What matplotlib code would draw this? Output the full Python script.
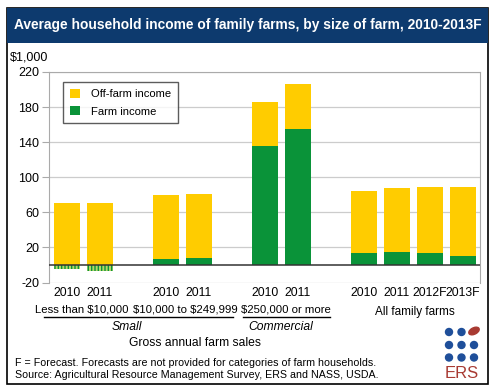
import matplotlib.pyplot as plt
from matplotlib.patches import Rectangle, Ellipse

plt.rcParams['font.family'] = ['Liberation Sans', 'DejaVu Sans']
plt.rcParams['axes.unicode_minus'] = False

# data (in $1,000)
years = ['2010', '2011', '2010', '2011', '2010', '2011', '2010', '2011', '2012F', '2013F']
positions = [0, 1, 3, 4, 6, 7, 9, 10, 11, 12]
off_farm = [71, 71, 73, 72, 50, 51, 71, 73, 75, 78]
farm = [-5, -6.5, 6.5, 8.5, 135.5, 155.5, 13.5, 15, 14, 10.5]
groups = ['Less than \\$10,000', '\\$10,000 to \\$249,999', '\\$250,000 or more', 'All family farms']

W, H = 493, 390
YELLOW = '#ffcc00'
GREEN = '#0a9339'
NAVY = '#0d3a6e'

fig = plt.figure(figsize=(W / 100, H / 100), dpi=100)


def fx(px):
    return px / W


def fy(py):
    return 1 - py / H


# outer frame and title bar
fig.patches.append(Rectangle((fx(7), fy(384)), fx(481), (384 - 8) / H, transform=fig.transFigure,
                             fill=False, edgecolor='black', lw=1.2))
fig.patches.append(Rectangle((fx(7), fy(43)), fx(481), 35 / H, transform=fig.transFigure,
                             facecolor=NAVY, edgecolor='none'))
fig.text(fx(14), fy(25.5), 'Average household income of family farms, by size of farm, 2010-2013F',
         color='white', fontsize=9.9, fontweight='bold', va='center', ha='left')

ax = fig.add_axes([fx(49), fy(282.5), fx(480 - 49), (282.5 - 72) / H])

# stacked bars: farm income at the bottom (negative values hatched), off-farm above
for x, off, fm in zip(positions, off_farm, farm):
    if fm >= 0:
        ax.bar(x, fm, width=0.79, color=GREEN, zorder=3)
        ax.bar(x, off, width=0.79, bottom=fm, color=YELLOW, zorder=3)
    else:
        ax.bar(x, fm, width=0.79, color='#b7d66a', edgecolor=GREEN, hatch='|||||', lw=0, zorder=3)
        ax.bar(x, off, width=0.79, color=YELLOW, zorder=3)

ax.axhline(0, color='#333333', lw=1.1, zorder=4)
ax.set_xlim(-0.54, 12.52)
ax.set_ylim(-20, 220)
ax.set_yticks([-20, 20, 60, 100, 140, 180, 220])
ax.yaxis.grid(True, color='#cccccc', lw=0.9)
ax.set_axisbelow(True)
ax.tick_params(axis='y', length=5, color='#aaaaaa', labelsize=9, pad=2)
ax.set_xticks(positions)
ax.set_xticklabels(years, fontsize=8.7)
ax.tick_params(axis='x', length=0, pad=3)
for s in ['left', 'top', 'right']:
    ax.spines[s].set_color('#aaaaaa')
ax.spines['bottom'].set_visible(False)

fig.text(fx(10), fy(57), '\\$1,000', fontsize=9, va='center', ha='left')

# legend box
ax.bar([0], [0], color=YELLOW, label='Off-farm income')
ax.bar([0], [0], color=GREEN, label='Farm income')
leg = ax.legend(loc='upper left', bbox_to_anchor=(14 / 431, 1 - 10 / 210.5), borderaxespad=0,
                fontsize=8.1, frameon=True, fancybox=False, handlelength=0.9, handleheight=0.9,
                borderpad=0.6, labelspacing=0.6, handletextpad=1.0)
leg.get_frame().set_edgecolor('#333333')
leg.get_frame().set_linewidth(1.0)

# group labels below the axis
for g, px in zip(groups[:3], [82, 185, 286]):
    fig.text(fx(px), fy(309), g, ha='center', va='center', fontsize=8.2)
fig.text(fx(415), fy(311.5), groups[3], ha='center', va='center', fontsize=8.5)
fig.lines.append(plt.Line2D([fx(44), fx(233)], [fy(316.5), fy(316.5)], transform=fig.transFigure,
                            color='black', lw=1))
fig.lines.append(plt.Line2D([fx(243), fx(330)], [fy(316.5), fy(316.5)], transform=fig.transFigure,
                            color='black', lw=1))
fig.text(fx(127), fy(327.5), 'Small', style='italic', ha='center', va='center', fontsize=8.7)
fig.text(fx(281), fy(327.5), 'Commercial', style='italic', ha='center', va='center', fontsize=8.7)
fig.text(fx(195), fy(343), 'Gross annual farm sales', ha='center', va='center', fontsize=8.7)

fig.text(fx(15), fy(363), 'F = Forecast. Forecasts are not provided for categories of farm households.',
         ha='left', va='center', fontsize=7.7)
fig.text(fx(15), fy(374.5), 'Source: Agricultural Resource Management Survey, ERS and NASS, USDA.',
         ha='left', va='center', fontsize=7.7)

# ERS logo
for r, yy in enumerate([332, 345, 357.5]):
    for c, xx in enumerate([449, 461.5, 474]):
        if r == 0 and c == 2:
            fig.patches.append(Ellipse((fx(474), fy(331)), fx(12), 6 / H, angle=40,
                                       transform=fig.transFigure, color='#a83a32'))
            continue
        fig.patches.append(Ellipse((fx(xx), fy(yy)), fx(7), 7 / H, transform=fig.transFigure,
                                   color='#1f4f9a'))
fig.text(fx(462), fy(373), 'ERS', color='#a83a32', ha='center', va='center', fontsize=12)

fig.savefig('out.png', dpi=100)
